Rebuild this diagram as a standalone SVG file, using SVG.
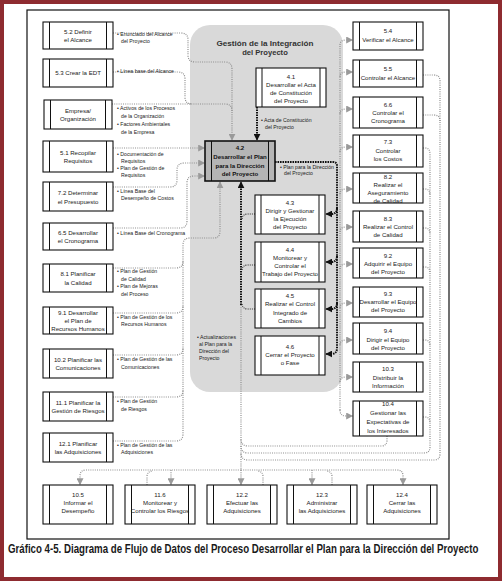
<svg xmlns="http://www.w3.org/2000/svg" width="502" height="581" viewBox="0 0 502 581">
<style>
.b{fill:#fff;stroke:#111;stroke-width:1.1}
.il{stroke:#111;stroke-width:1}
.t{font-family:"Liberation Sans",Arial,sans-serif;font-size:6.1px;fill:#222;text-anchor:middle}
.tb{font-family:"Liberation Sans",Arial,sans-serif;font-size:6.1px;fill:#111;text-anchor:middle;font-weight:bold}
.l{font-family:"Liberation Sans",Arial,sans-serif;font-size:5.2px;fill:#222}
.g{fill:none;stroke:#8f8f8f;stroke-width:1.2;stroke-dasharray:1 1.2}
.k{fill:none;stroke:#111;stroke-width:2;stroke-dasharray:1.6 0.9}
.kt{fill:none;stroke:#333;stroke-width:1.1;stroke-dasharray:1 1.1}
</style>
<defs>
<marker id="ga" viewBox="0 0 10 10" refX="9" refY="5" markerWidth="7" markerHeight="7" markerUnits="userSpaceOnUse" orient="auto"><path d="M0,0 L10,5 L0,10 z" fill="#9a9a9a"/></marker>
<marker id="ka" viewBox="0 0 10 10" refX="9" refY="5" markerWidth="7" markerHeight="7" markerUnits="userSpaceOnUse" orient="auto"><path d="M0,0 L10,5 L0,10 z" fill="#111"/></marker>
</defs>
<rect x="0" y="0" width="502" height="581" fill="#fff"/>
<rect x="2" y="2" width="498" height="577" fill="none" stroke="#8e2b30" stroke-width="4"/>
<rect x="27" y="10" width="422" height="529" fill="none" stroke="#111" stroke-width="1.2"/>

<g id="integracion">
<rect x="190" y="25" width="153" height="367" rx="20" fill="#d9d9d9"/>
<text x="265" y="46" font-family="Liberation Sans,Arial,sans-serif" font-size="7.6" font-weight="bold" fill="#333" text-anchor="middle" textLength="97" lengthAdjust="spacingAndGlyphs">Gestión de la Integración</text>
<text x="265" y="55" font-family="Liberation Sans,Arial,sans-serif" font-size="7.6" font-weight="bold" fill="#333" text-anchor="middle">del Proyecto</text>
</g>

<g id="connectors">
<!-- inputs -->
<path class="g" d="M113,33 H181 Q188,33 188,40 V55 Q188,62 195,62 H225 Q232,62 232,69 V140" marker-end="url(#ga)"/>
<path class="g" d="M113,72 H178 Q185,72 185,79 V97 Q185,104 192,104"/>
<path class="g" d="M112,104 H225 Q232,104 232,111"/>
<path class="g" d="M113,148 H204.5" marker-end="url(#ga)"/>
<path class="g" d="M113,187 H170 Q177,187 177,180 V170 Q177,163 184,163 H204.5" marker-end="url(#ga)"/>
<path class="g" d="M113,228 H180 Q187,228 187,221 V183 Q187,176 194,176 H204.5" marker-end="url(#ga)"/>
<path class="g" d="M113,268 H176 Q183,268 183,261"/>
<path class="g" d="M113,313 H176 Q183,313 183,306"/>
<path class="g" d="M113,355 H176 Q183,355 183,348"/>
<path class="g" d="M113,397 H176 Q183,397 183,390"/>
<path class="g" d="M113,441 H176 Q183,441 183,434 V245 Q183,238 190,238 H214 Q220,238 220,231 V182" marker-end="url(#ga)"/>
<!-- distribution right -->
<path class="g" d="M340,46 V410"/>
<path class="g" d="M340,45 Q340,40 346,40 H352.5" marker-end="url(#ga)"/>
<path class="g" d="M340,77 Q340,72 346,72 H352.5" marker-end="url(#ga)"/>
<path class="g" d="M340,114 Q340,109 346,109 H352.5" marker-end="url(#ga)"/>
<path class="g" d="M340,152 Q340,147 346,147 H352.5" marker-end="url(#ga)"/>
<path class="g" d="M340,194 Q340,189 346,189 H352.5" marker-end="url(#ga)"/>
<path class="g" d="M340,232 Q340,227 346,227 H352.5" marker-end="url(#ga)"/>
<path class="g" d="M340,269 Q340,264 346,264 H352.5" marker-end="url(#ga)"/>
<path class="g" d="M340,308 Q340,303 346,303 H352.5" marker-end="url(#ga)"/>
<path class="g" d="M340,345 Q340,340 346,340 H352.5" marker-end="url(#ga)"/>
<path class="g" d="M340,382 Q340,377 346,377 H352.5" marker-end="url(#ga)"/>
<path class="g" d="M340,410 Q340,416 346,416 H352.5" marker-end="url(#ga)"/>
<!-- returns right -->
<path class="g" d="M423,75 H434 Q440,75 440,81 V454 Q440,460 434,460 H248 Q241,460 241,453"/>
<path class="g" d="M423,115 H434 Q440,115 440,121"/>
<path class="g" d="M423,148 H425 Q430,148 430,154 V447 Q430,453 424,453 H248 Q241,453 241,446"/>
<path class="g" d="M423,189 H425 Q430,189 430,195"/>
<path class="g" d="M423,228 H425 Q430,228 430,234"/>
<path class="g" d="M423,267 H425 Q430,267 430,273"/>
<path class="g" d="M423,340 H425 Q430,340 430,346"/>
<path class="g" d="M423,417 H425 Q430,417 430,423"/>
<path class="g" d="M387,436 V440 Q387,446 381,446 H248 Q241,446 241,439"/>
<!-- bottom distribution -->
<path class="g" d="M241,305 V484.5" marker-end="url(#ga)"/>
<path class="g" d="M241,470 H86 Q80,470 80,476 V484.5" marker-end="url(#ga)"/>
<path class="g" d="M241,470 H397 Q403,470 403,476 V484.5" marker-end="url(#ga)"/>
<path class="g" d="M171,470 V484.5" marker-end="url(#ga)"/>
<path class="g" d="M312,470 V484.5" marker-end="url(#ga)"/>
<path class="g" d="M147,485 V477 Q147,471 153,471"/>
<path class="g" d="M263,485 V477 Q263,471 257,471"/>
<path class="g" d="M332,485 V477 Q332,471 326,471"/>
<!-- black -->
<path class="k" d="M257,107 V140" marker-end="url(#ka)"/>
<path class="k" d="M275,162 H333 Q337,162 337,166 V348 Q337,354 331,354 H326" marker-end="url(#ka)"/>
<path class="k" d="M337,208 Q337,214 331,214 H326" marker-end="url(#ka)"/>
<path class="k" d="M337,256 Q337,262 331,262 H326" marker-end="url(#ka)"/>
<path class="k" d="M337,303 Q337,309 331,309 H326" marker-end="url(#ka)"/>
<path class="k" d="M241,305 V182" marker-end="url(#ka)"/>
<path class="kt" d="M255,214 H248 Q242,214 242,220"/>
<path class="kt" d="M255,265 H248 Q242,265 242,271"/>
<path class="kt" d="M255,309 H248 Q242,309 242,303"/>
</g>

<!-- labels -->
<g id="labels" class="l">
<text x="117" y="36">• Enunciado del Alcance</text><text x="121" y="43">del Proyecto</text>
<text x="117" y="73">• Línea base del Alcance</text>
<text x="117" y="110">• Activos de los Procesos</text><text x="121" y="118">de la Organización</text>
<text x="117" y="126">• Factores Ambientales</text><text x="121" y="134">de la Empresa</text>
<text x="117" y="156">• Documentación de</text><text x="121" y="163">Requisitos</text>
<text x="117" y="170">• Plan de Gestión de</text><text x="121" y="177">Requisitos</text>
<text x="117" y="193">• Línea Base del</text><text x="121" y="200">Desempeño de Costos</text>
<text x="117" y="235">• Línea Base del Cronograma</text>
<text x="117" y="273">• Plan de Gestión</text><text x="121" y="281">de Calidad</text>
<text x="117" y="288">• Plan de Mejoras</text><text x="121" y="296">del Proceso</text>
<text x="117" y="319">• Plan de Gestión de los</text><text x="121" y="326">Recursos Humanos</text>
<text x="117" y="361">• Plan de Gestión de las</text><text x="121" y="369">Comunicaciones</text>
<text x="117" y="403">• Plan de Gestión</text><text x="121" y="411">de Riesgos</text>
<text x="117" y="447">• Plan de Gestión de las</text><text x="121" y="454">Adquisiciones</text>
<text x="261" y="122">• Acta de Constitución</text><text x="265" y="129">del Proyecto</text>
<text x="280" y="169">• Plan para la Dirección</text><text x="284" y="175">del Proyecto</text>
<text x="197" y="339">• Actualizaciones</text><text x="199" y="346">al Plan para la</text><text x="199" y="353">Dirección del</text><text x="199" y="360">Proyecto</text>
</g>

<!-- left column -->
<g id="n52"><rect class="b" x="43" y="22" width="70" height="27"/><line class="il" x1="49.5" y1="22" x2="49.5" y2="49"/><line class="il" x1="106.5" y1="22" x2="106.5" y2="49"/><text class="t" x="78" y="34">5.2 Definir</text><text class="t" x="78" y="42">el Alcance</text></g>
<g id="n53"><rect class="b" x="43" y="59" width="70" height="28"/><line class="il" x1="49.5" y1="59" x2="49.5" y2="87"/><line class="il" x1="106.5" y1="59" x2="106.5" y2="87"/><text class="t" x="78" y="75">5.3 Crear la EDT</text></g>
<g id="nemp"><rect class="b" x="44" y="100" width="68" height="29"/><line class="il" x1="50.5" y1="100" x2="50.5" y2="129"/><line class="il" x1="105.5" y1="100" x2="105.5" y2="129"/><text class="t" x="78" y="113">Empresa/</text><text class="t" x="78" y="121">Organización</text></g>
<g id="n51"><rect class="b" x="43" y="141" width="70" height="31"/><line class="il" x1="49.5" y1="141" x2="49.5" y2="172"/><line class="il" x1="106.5" y1="141" x2="106.5" y2="172"/><text class="t" x="78" y="155">5.1 Recopilar</text><text class="t" x="78" y="163">Requisitos</text></g>
<g id="n72"><rect class="b" x="43" y="182" width="70" height="29"/><line class="il" x1="49.5" y1="182" x2="49.5" y2="211"/><line class="il" x1="106.5" y1="182" x2="106.5" y2="211"/><text class="t" x="78" y="195">7.2 Determinar</text><text class="t" x="78" y="204">el Presupuesto</text></g>
<g id="n65"><rect class="b" x="43" y="223" width="70" height="27"/><line class="il" x1="49.5" y1="223" x2="49.5" y2="250"/><line class="il" x1="106.5" y1="223" x2="106.5" y2="250"/><text class="t" x="78" y="235">6.5 Desarrollar</text><text class="t" x="78" y="243">el Cronograma</text></g>
<g id="n81"><rect class="b" x="43" y="264" width="70" height="28"/><line class="il" x1="49.5" y1="264" x2="49.5" y2="292"/><line class="il" x1="106.5" y1="264" x2="106.5" y2="292"/><text class="t" x="78" y="276">8.1 Planificar</text><text class="t" x="78" y="285">la Calidad</text></g>
<g id="n91"><rect class="b" x="43" y="307" width="70" height="27"/><line class="il" x1="49.5" y1="307" x2="49.5" y2="334"/><line class="il" x1="106.5" y1="307" x2="106.5" y2="334"/><text class="t" x="78" y="315">9.1 Desarrollar</text><text class="t" x="78" y="323">el Plan de</text><text class="t" x="78" y="331">Recursos Humanos</text></g>
<g id="n102"><rect class="b" x="43" y="349" width="70" height="29"/><line class="il" x1="49.5" y1="349" x2="49.5" y2="378"/><line class="il" x1="106.5" y1="349" x2="106.5" y2="378"/><text class="t" x="78" y="362">10.2 Planificar las</text><text class="t" x="78" y="370">Comunicaciones</text></g>
<g id="n111"><rect class="b" x="43" y="392" width="70" height="29"/><line class="il" x1="49.5" y1="392" x2="49.5" y2="421"/><line class="il" x1="106.5" y1="392" x2="106.5" y2="421"/><text class="t" x="78" y="405">11.1 Planificar la</text><text class="t" x="78" y="413">Gestión de Riesgos</text></g>
<g id="n121"><rect class="b" x="43" y="433" width="70" height="29"/><line class="il" x1="49.5" y1="433" x2="49.5" y2="462"/><line class="il" x1="106.5" y1="433" x2="106.5" y2="462"/><text class="t" x="78" y="446">12.1 Planificar</text><text class="t" x="78" y="454">las Adquisiciones</text></g>

<!-- integration boxes -->
<g id="n41"><rect class="b" x="256" y="68" width="70" height="39"/><line class="il" x1="262" y1="68" x2="262" y2="107"/><line class="il" x1="320" y1="68" x2="320" y2="107"/><text class="t" x="291" y="79">4.1</text><text class="t" x="291" y="87">Desarrollar el Acta</text><text class="t" x="291" y="95">de Constitución</text><text class="t" x="291" y="103">del Proyecto</text></g>
<g id="n42"><rect x="205" y="141" width="70" height="40" fill="#b5b5b5" stroke="#111" stroke-width="1.6"/><line class="il" x1="211.5" y1="141" x2="211.5" y2="181"/><line class="il" x1="268.5" y1="141" x2="268.5" y2="181"/><text class="tb" x="240" y="150">4.2</text><text class="tb" x="240" y="159">Desarrollar el Plan</text><text class="tb" x="240" y="168">para la Dirección</text><text class="tb" x="240" y="176">del Proyecto</text></g>
<g id="n43"><rect class="b" x="255" y="195" width="70" height="39"/><line class="il" x1="261" y1="195" x2="261" y2="234"/><line class="il" x1="319" y1="195" x2="319" y2="234"/><text class="t" x="290" y="205">4.3</text><text class="t" x="290" y="213">Dirigir y Gestionar</text><text class="t" x="290" y="221">la Ejecución</text><text class="t" x="290" y="229">del Proyecto</text></g>
<g id="n44"><rect class="b" x="255" y="242" width="70" height="40"/><line class="il" x1="261" y1="242" x2="261" y2="282"/><line class="il" x1="319" y1="242" x2="319" y2="282"/><text class="t" x="290" y="252">4.4</text><text class="t" x="290" y="260">Monitorear y</text><text class="t" x="290" y="268">Controlar el</text><text class="t" x="290" y="276">Trabajo del Proyecto</text></g>
<g id="n45"><rect class="b" x="255" y="289" width="70" height="39"/><line class="il" x1="261" y1="289" x2="261" y2="328"/><line class="il" x1="319" y1="289" x2="319" y2="328"/><text class="t" x="290" y="298">4.5</text><text class="t" x="290" y="306">Realizar el Control</text><text class="t" x="290" y="315">Integrado de</text><text class="t" x="290" y="323">Cambios</text></g>
<g id="n46"><rect class="b" x="255" y="336" width="70" height="39"/><line class="il" x1="261" y1="336" x2="261" y2="375"/><line class="il" x1="319" y1="336" x2="319" y2="375"/><text class="t" x="290" y="349">4.6</text><text class="t" x="290" y="357">Cerrar el Proyecto</text><text class="t" x="290" y="365">o Fase</text></g>

<!-- right column -->
<g id="n54"><rect class="b" x="353" y="22" width="70" height="28"/><line class="il" x1="359.5" y1="22" x2="359.5" y2="50"/><line class="il" x1="416.5" y1="22" x2="416.5" y2="50"/><text class="t" x="388" y="33">5.4</text><text class="t" x="388" y="42">Verificar el Alcance</text></g>
<g id="n55"><rect class="b" x="353" y="60" width="70" height="27"/><line class="il" x1="359.5" y1="60" x2="359.5" y2="87"/><line class="il" x1="416.5" y1="60" x2="416.5" y2="87"/><text class="t" x="388" y="71">5.5</text><text class="t" x="388" y="80">Controlar el Alcance</text></g>
<g id="n66"><rect class="b" x="353" y="97" width="70" height="31"/><line class="il" x1="359.5" y1="97" x2="359.5" y2="128"/><line class="il" x1="416.5" y1="97" x2="416.5" y2="128"/><text class="t" x="388" y="107">6.6</text><text class="t" x="388" y="115">Controlar el</text><text class="t" x="388" y="123">Cronograma</text></g>
<g id="n73"><rect class="b" x="353" y="135" width="70" height="32"/><line class="il" x1="359.5" y1="135" x2="359.5" y2="167"/><line class="il" x1="416.5" y1="135" x2="416.5" y2="167"/><text class="t" x="388" y="144">7.3</text><text class="t" x="388" y="153">Controlar</text><text class="t" x="388" y="161">los Costos</text></g>
<g id="n82"><rect class="b" x="353" y="173" width="70" height="30"/><line class="il" x1="359.5" y1="173" x2="359.5" y2="203"/><line class="il" x1="416.5" y1="173" x2="416.5" y2="203"/><text class="t" x="388" y="179">8.2</text><text class="t" x="388" y="187">Realizar el</text><text class="t" x="388" y="195">Aseguramiento</text><text class="t" x="388" y="203">de Calidad</text></g>
<g id="n83"><rect class="b" x="353" y="211" width="70" height="31"/><line class="il" x1="359.5" y1="211" x2="359.5" y2="242"/><line class="il" x1="416.5" y1="211" x2="416.5" y2="242"/><text class="t" x="388" y="221">8.3</text><text class="t" x="388" y="229">Realizar el Control</text><text class="t" x="388" y="237">de Calidad</text></g>
<g id="n92"><rect class="b" x="353" y="248" width="70" height="30"/><line class="il" x1="359.5" y1="248" x2="359.5" y2="278"/><line class="il" x1="416.5" y1="248" x2="416.5" y2="278"/><text class="t" x="388" y="258">9.2</text><text class="t" x="388" y="266">Adquirir el Equipo</text><text class="t" x="388" y="274">del Proyecto</text></g>
<g id="n93"><rect class="b" x="353" y="287" width="70" height="30"/><line class="il" x1="359.5" y1="287" x2="359.5" y2="317"/><line class="il" x1="416.5" y1="287" x2="416.5" y2="317"/><text class="t" x="388" y="296">9.3</text><text class="t" x="388" y="304">Desarrollar el Equipo</text><text class="t" x="388" y="312">del Proyecto</text></g>
<g id="n94"><rect class="b" x="353" y="323" width="70" height="31"/><line class="il" x1="359.5" y1="323" x2="359.5" y2="354"/><line class="il" x1="416.5" y1="323" x2="416.5" y2="354"/><text class="t" x="388" y="333">9.4</text><text class="t" x="388" y="342">Dirigir el Equipo</text><text class="t" x="388" y="350">del Proyecto</text></g>
<g id="n103"><rect class="b" x="353" y="362" width="70" height="30"/><line class="il" x1="359.5" y1="362" x2="359.5" y2="392"/><line class="il" x1="416.5" y1="362" x2="416.5" y2="392"/><text class="t" x="388" y="371">10.3</text><text class="t" x="388" y="380">Distribuir la</text><text class="t" x="388" y="388">Información</text></g>
<g id="n104"><rect class="b" x="353" y="401" width="70" height="35"/><line class="il" x1="359.5" y1="401" x2="359.5" y2="436"/><line class="il" x1="416.5" y1="401" x2="416.5" y2="436"/><text class="t" x="388" y="406">10.4</text><text class="t" x="388" y="415">Gestionar las</text><text class="t" x="388" y="424">Expectativas de</text><text class="t" x="388" y="433">los Interesados</text></g>

<!-- bottom row -->
<g id="n105"><rect class="b" x="43" y="485" width="70" height="39"/><line class="il" x1="49.5" y1="485" x2="49.5" y2="524"/><line class="il" x1="106.5" y1="485" x2="106.5" y2="524"/><text class="t" x="78" y="497">10.5</text><text class="t" x="78" y="505">Informar el</text><text class="t" x="78" y="513">Desempeño</text></g>
<g id="n116"><rect class="b" x="125" y="485" width="70" height="39"/><line class="il" x1="131.5" y1="485" x2="131.5" y2="524"/><line class="il" x1="188.5" y1="485" x2="188.5" y2="524"/><text class="t" x="160" y="497">11.6</text><text class="t" x="160" y="505">Monitorear y</text><text class="t" x="160" y="513">Controlar los Riesgos</text></g>
<g id="n122"><rect class="b" x="207" y="485" width="70" height="39"/><line class="il" x1="213.5" y1="485" x2="213.5" y2="524"/><line class="il" x1="270.5" y1="485" x2="270.5" y2="524"/><text class="t" x="242" y="497">12.2</text><text class="t" x="242" y="505">Efectuar las</text><text class="t" x="242" y="513">Adquisiciones</text></g>
<g id="n123"><rect class="b" x="287" y="485" width="70" height="39"/><line class="il" x1="293.5" y1="485" x2="293.5" y2="524"/><line class="il" x1="350.5" y1="485" x2="350.5" y2="524"/><text class="t" x="322" y="497">12.3</text><text class="t" x="322" y="505">Administrar</text><text class="t" x="322" y="513">las Adquisiciones</text></g>
<g id="n124"><rect class="b" x="367" y="485" width="70" height="39"/><line class="il" x1="373.5" y1="485" x2="373.5" y2="524"/><line class="il" x1="430.5" y1="485" x2="430.5" y2="524"/><text class="t" x="402" y="497">12.4</text><text class="t" x="402" y="505">Cerrar las</text><text class="t" x="402" y="513">Adquisiciones</text></g>

<text transform="translate(8,553) scale(0.7,1)" x="0" y="0" font-family="Liberation Sans,Arial,sans-serif" font-size="12" font-weight="bold" fill="#1a1a1a" textLength="672" lengthAdjust="spacingAndGlyphs">Gráfico 4-5. Diagrama de Flujo de Datos del Proceso Desarrollar el Plan para la Dirección del Proyecto</text>
</svg>
